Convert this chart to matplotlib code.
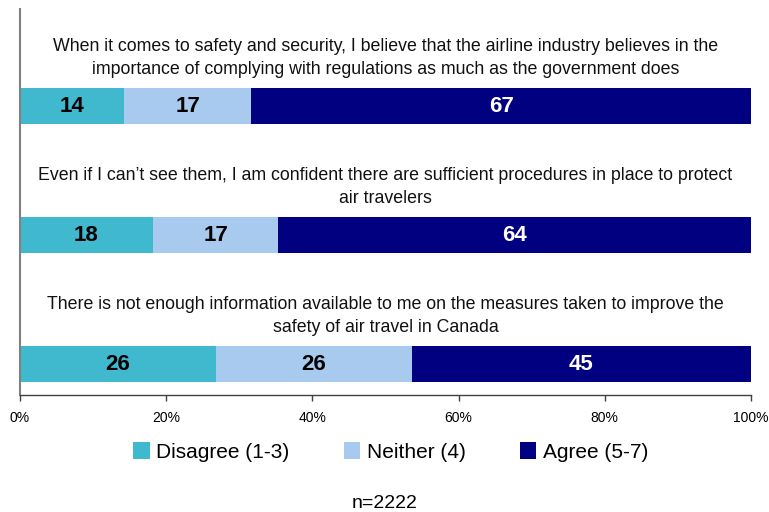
import numpy as np
import matplotlib.pyplot as plt
from matplotlib.patches import Patch

# Survey statements and response shares (%)
statements = [
    "When it comes to safety and security, I believe that the airline industry believes in the\nimportance of complying with regulations as much as the government does",
    "Even if I can\u2019t see them, I am confident there are sufficient procedures in place to protect\nair travelers",
    "There is not enough information available to me on the measures taken to improve the\nsafety of air travel in Canada",
]
disagree = [14, 18, 26]
neither = [17, 17, 26]
agree = [67, 64, 45]

series_names = ["Disagree (1-3)", "Neither (4)", "Agree (5-7)"]
colors = ["#40B8CE", "#A8CAEE", "#000080"]
label_colors = ["black", "black", "white"]
tick_labels = ["0%", "20%", "40%", "60%", "80%", "100%"]

plt.rcParams["font.family"] = ["Liberation Sans", "DejaVu Sans"]

fig = plt.figure(figsize=(7.69, 5.12), dpi=100)
ax = fig.add_axes([20 / 769, 1 - 394.7 / 512, 731 / 769, 385.7 / 512])

data = np.array([disagree, neither, agree], dtype=float)
shares = data / data.sum(axis=0) * 100
ypos = np.arange(len(statements))

left = np.zeros(len(statements))
for k in range(len(series_names)):
    ax.barh(ypos, shares[k], left=left, height=0.28, color=colors[k], edgecolor="none")
    for i in range(len(statements)):
        ax.text(left[i] + shares[k][i] / 2, ypos[i] + 0.005, str(int(data[k][i])),
                ha="center", va="center", fontsize=16, fontweight="bold",
                color=label_colors[k])
    left += shares[k]

for i, s in enumerate(statements):
    ax.text(50, ypos[i] - 0.375, s, ha="center", va="center", fontsize=12.8,
            linespacing=1.45, color="#111111")

ax.set_xlim(0, 100)
ax.set_ylim(2.238, -0.752)
ax.set_xticks(np.linspace(0, 100, 6))
ax.set_xticklabels(tick_labels, fontsize=10)
ax.set_yticks([])
ax.tick_params(axis="x", direction="out", length=4, width=1, color="#404040", pad=8)

for side in ["top", "right"]:
    ax.spines[side].set_visible(False)
ax.spines["left"].set_color("#808080")
ax.spines["left"].set_linewidth(1.5)
ax.spines["bottom"].set_color("#404040")
ax.spines["bottom"].set_linewidth(1)

handles = [Patch(facecolor=c, edgecolor="none") for c in colors]
fig.legend(handles, series_names, loc="center", bbox_to_anchor=(0.508, 1 - 452 / 512),
           ncol=3, frameon=False, fontsize=15, handlelength=0.8, handleheight=0.85,
           handletextpad=0.3, columnspacing=2.6)

fig.text(0.5, 1 - 503 / 512, "n=2222", ha="center", va="center", fontsize=14)

fig.savefig("out.png", dpi=100)
